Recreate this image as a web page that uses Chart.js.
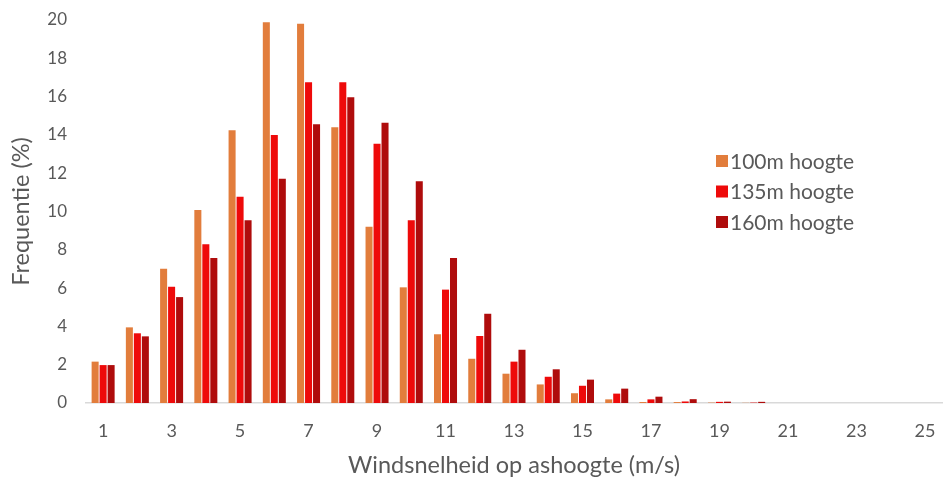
<!DOCTYPE html>
<html>
<head>
<meta charset="utf-8">
<script src="https://cdn.jsdelivr.net/npm/chart.js@4.4.1/dist/chart.umd.min.js"></script>
<style>
  html, body { margin: 0; padding: 0; background: #fff; }
  #wrap { width: 944px; height: 482px; position: relative; }
</style>
</head>
<body>
<div id="wrap"><canvas id="windChart"></canvas></div>
<script>
// wind speed classes (m/s)
const speeds = ["1","2","3","4","5","6","7","8","9","10","11","12","13","14","15","16","17","18","19","20","21","22","23","24","25"];

// frequency (%) per hub height
const freq100 = [2.16, 3.95, 7.01, 10.08, 14.24, 19.88, 19.81, 14.40, 9.21, 6.04, 3.59, 2.31, 1.53, 0.97, 0.51, 0.19, 0.05, 0.05, 0.02, 0.01, 0, 0, 0, 0, 0];
const freq135 = [1.98, 3.64, 6.07, 8.29, 10.77, 13.99, 16.75, 16.75, 13.54, 9.54, 5.92, 3.50, 2.16, 1.37, 0.90, 0.49, 0.19, 0.08, 0.06, 0.02, 0, 0, 0, 0, 0];
const freq160 = [1.98, 3.48, 5.53, 7.57, 9.54, 11.71, 14.55, 15.96, 14.64, 11.58, 7.57, 4.66, 2.78, 1.76, 1.22, 0.75, 0.33, 0.20, 0.07, 0.06, 0, 0, 0, 0, 0];

const seriesLabels = ["100m hoogte", "135m hoogte", "160m hoogte"];
const yTicks = [0, 2, 4, 6, 8, 10, 12, 14, 16, 18, 20];

const colors = ["#E27D3C", "#EE0A0A", "#AF0C0C"];
const textGray = "#595959";
const fontFam = "Lato, 'Open Sans', sans-serif";

// simple legend drawn inside the plot, like the original
const sideLegend = {
    id: "sideLegend",
    afterDraw(chart) {
        const c = chart.ctx;
        c.save();
        c.font = "21px " + fontFam;
        c.textBaseline = "middle";
        chart.data.datasets.forEach((ds, i) => {
            const y = 161 + i * 30.5;
            c.fillStyle = ds.backgroundColor;
            c.fillRect(716, y - 6, 12, 12);
            c.fillStyle = textGray;
            c.fillText(ds.label, 730, y + 1);
        });
        c.restore();
    }
};

const ctx = document.getElementById("windChart").getContext("2d");
new Chart(ctx, {
    type: "bar",
    data: {
        labels: speeds,
        datasets: [
            { label: seriesLabels[0], data: freq100, backgroundColor: colors[0] },
            { label: seriesLabels[1], data: freq135, backgroundColor: colors[1] },
            { label: seriesLabels[2], data: freq160, backgroundColor: colors[2] }
        ]
    },
    options: {
        responsive: true,
        maintainAspectRatio: false,
        animation: false,
        layout: { padding: { top: 20, right: 2, left: 4, bottom: 0 } },
        datasets: { bar: { categoryPercentage: 0.7, barPercentage: 0.88 } },
        plugins: {
            legend: { display: false },
            tooltip: { enabled: false }
        },
        scales: {
            x: {
                grid: { display: false, drawTicks: false },
                border: { display: true, color: "#D9D9D9", width: 1.5 },
                afterFit: axis => { axis.paddingLeft = 0; axis.paddingRight = 0; axis.height = 79; },
                ticks: {
                    color: textGray,
                    font: { family: fontFam, size: 18 },
                    padding: 17,
                    autoSkip: false,
                    maxRotation: 0,
                    callback: function(val, idx) { return idx % 2 === 0 ? speeds[idx] : ""; }
                },
                title: {
                    display: true,
                    text: "Windsnelheid op ashoogte (m/s)",
                    color: textGray,
                    font: { family: fontFam, size: 23.5 },
                    padding: { top: 0, bottom: 2 }
                }
            },
            y: {
                min: 0,
                max: 20,
                afterBuildTicks: axis => { axis.ticks = yTicks.map(v => ({ value: v })); },
                afterFit: axis => { axis.width = 82; axis.paddingTop = 0; axis.paddingBottom = 0; },
                grid: { display: false, drawTicks: false },
                border: { display: false },
                ticks: {
                    color: textGray,
                    font: { family: fontFam, size: 17 },
                    padding: 19
                },
                title: {
                    display: true,
                    text: "Frequentie (%)",
                    color: textGray,
                    font: { family: fontFam, size: 23.5 },
                    padding: { top: 3, bottom: 0 }
                }
            }
        }
    },
    plugins: [sideLegend]
});
</script>
</body>
</html>
